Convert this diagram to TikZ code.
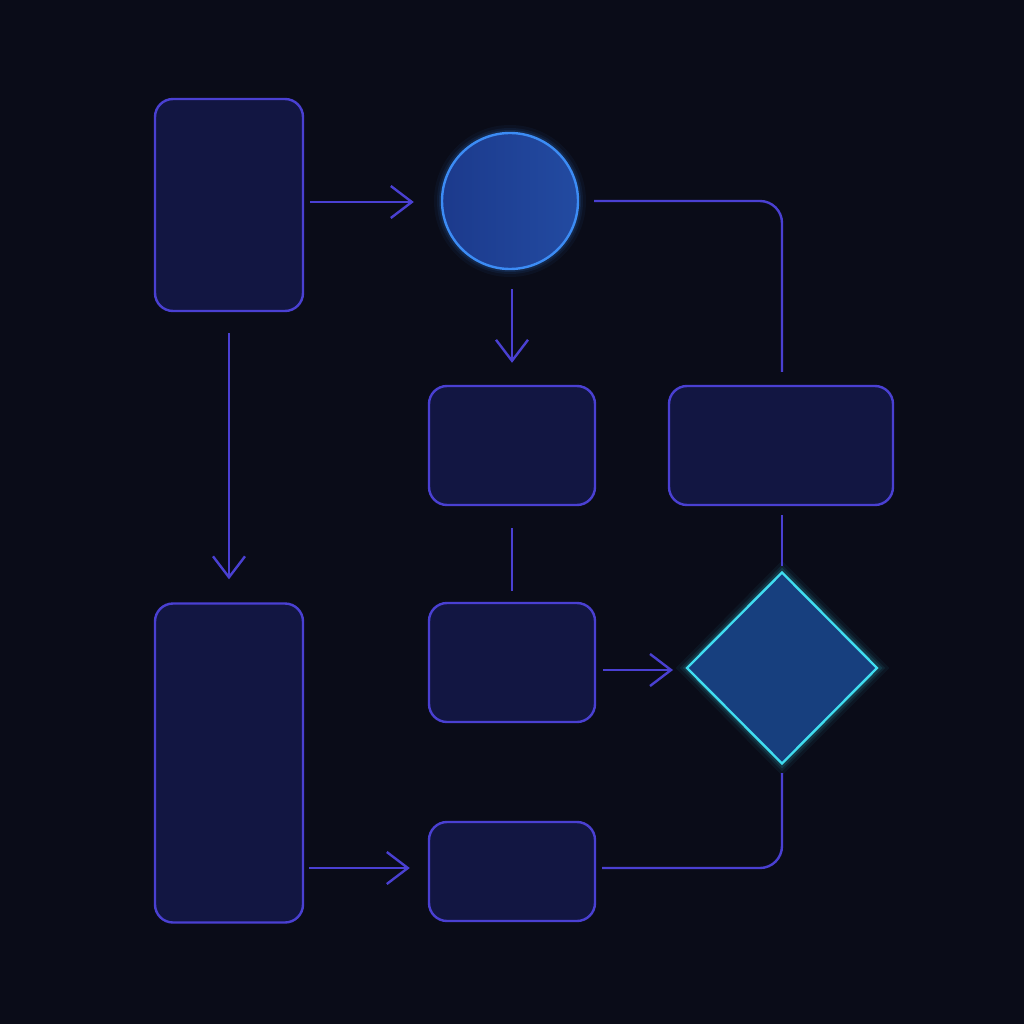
\documentclass[tikz,border=0pt]{standalone}
\usetikzlibrary{arrows.meta,shapes.geometric}
\definecolor{bgc}{HTML}{0A0C18}
\definecolor{boxfill}{HTML}{121642}
\definecolor{boxline}{HTML}{4A40D2}
\definecolor{circfill}{HTML}{1C3A8C}
\definecolor{circline}{HTML}{3C8CF5}
\definecolor{diafill}{HTML}{173F7E}
\definecolor{dialine}{HTML}{40DDF0}
\tikzset{
  box/.style={draw=boxline, line width=2.4pt, fill=boxfill, rounded corners=18pt, inner sep=0pt},
  conn/.style={draw=boxline, line width=2.4pt},
  arr/.style={conn, -{Straight Barb[length=21pt,width=32pt,line width=2.4pt]}},
}
\begin{document}
\begin{tikzpicture}[x=1pt,y=-1pt]
\fill[bgc] (0,0) rectangle (1024,1024);
\useasboundingbox (0,0) rectangle (1024,1024);
% boxes
\node[box, minimum width=148pt, minimum height=212pt] (A) at (229,205) {};
\node[box, minimum width=148pt, minimum height=319pt] (E) at (229,763) {};
\node[box, minimum width=166pt, minimum height=119pt] (C) at (512,445.5) {};
\node[box, minimum width=224pt, minimum height=119pt] (D) at (781,445.5) {};
\node[box, minimum width=166pt, minimum height=119pt] (F) at (512,662.5) {};
\node[box, minimum width=166pt, minimum height=99pt] (H) at (512,871.5) {};
% circle glow
\foreach \w/\o in {16/0.05,10/0.08,6/0.12}{
  \draw[circline, line width=\w pt, opacity=\o] (510,201) circle (68);
}
\node[circle, draw=circline, line width=2.4pt, left color=circfill, right color=circfill!80!circline, minimum size=136pt, inner sep=0pt] (B) at (510,201) {};
% diamond glow
\foreach \w/\o in {16/0.05,10/0.08,6/0.12}{
  \draw[dialine, line width=\w pt, opacity=\o] (782,572) -- (878,668) -- (782,764) -- (687,668) -- cycle;
}
\node[diamond, draw=dialine, line width=2.4pt, fill=diafill, minimum width=191pt, minimum height=192pt, inner sep=0pt, aspect=1] (G) at (782,668) {};
% connectors
\coordinate (ab) at (A.east|-0,202);
\draw[arr] ([xshift=6pt]ab) -- ([xshift=-27pt]B.west|-ab);
\draw[arr] ([yshift=-19pt]C.north|-B.south) -- ([yshift=22pt]C.north);
\draw[conn, rounded corners=22pt] ([xshift=15pt]B.east) -- (G.north|-B.east) -- ([yshift=13pt]G.north|-D.north);
\draw[arr] ([yshift=-21pt]A.south) -- ([yshift=23pt]E.north);
\draw[conn] ([yshift=-22pt]C.south) -- ([yshift=11pt]F.north);
\draw[conn] ([yshift=-9pt]G.north|-D.south) -- ([yshift=5pt]G.north);
\draw[arr] ([xshift=7pt]F.east|-0,670) -- (673,670);
\draw[arr] (309,868) -- ([xshift=-18pt]H.west|-0,868);
\draw[conn, rounded corners=22pt] ([yshift=-8pt]G.south) -- (G.south|-0,868) -- ([xshift=6pt]H.east|-0,868);
\end{tikzpicture}
\end{document}
